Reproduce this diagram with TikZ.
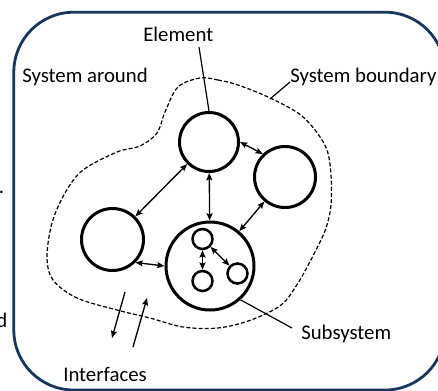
\documentclass[tikz,border=0pt]{standalone}
\usepackage{fontspec}
\setmainfont{Carlito}
\usetikzlibrary{arrows.meta,calc}
\definecolor{navy}{HTML}{17375E}
\begin{document}
\begin{tikzpicture}[x=0.75pt,y=-0.75pt,
  ring/.style={circle,draw,line width=2.25pt,inner sep=0pt},
  smallring/.style={circle,draw,line width=1.9pt,inner sep=0pt,minimum size=15pt},
  tip/.tip={Stealth[length=5.5pt,width=4.5pt,inset=1pt]},
  link/.style={line width=1pt,tip-tip},
  oneway/.style={line width=1pt,-tip},
  lbl/.style={inner sep=0pt,anchor=base west,font=\fontsize{15.6}{18}\selectfont},
  leader/.style={line width=0.9pt},
  bound/.style={line width=0.9pt,dash pattern=on 3pt off 1.6pt}]
\useasboundingbox (0,0) rectangle (438,390);
% outer frame
\draw[navy,line width=2.1pt,rounded corners=45pt] (13.8,12.2) rectangle (445,390);
% system boundary
\draw[bound] plot[smooth cycle,tension=0.55] coordinates {
 (200,78) (218,80) (238,85) (268,97) (298,113) (315,130) (327,150) (331,175)
 (331,205) (326,228) (315,252) (298,283) (281,305) (251,320) (218,328) (183,327)
 (150,318) (117,310) (77,298) (53,280) (47,257) (52,223) (65,193) (83,170)
 (117,152) (140,146) (157,133) (165,112) (178,87)};
% elements
\node[ring,minimum size=44.25pt] (E) at (209,142) {};
\node[ring,minimum size=45.75pt] (R) at (285,177) {};
\node[ring,minimum size=46.5pt] (L) at (112.5,239.5) {};
\node[ring,minimum size=66pt] (S) at (210,266) {};
\node[smallring] (T) at (202.5,239) {};
\node[smallring] (B) at (202.5,281) {};
\node[smallring] (Q) at (237.5,273.5) {};
% relations
\draw[link] (L) -- (E);
\draw[link] (E) -- (S);
\draw[link] (E.east) -- (R.134);
\draw[link] (R) -- (S);
\draw[link] (L.-45) -- (S.west);
\draw[link] (T) -- (B);
\draw[link] (T) -- (Q);
% interfaces
\coordinate (ia) at (125,292);
\coordinate (ib) at (112,338);
\coordinate (ic) at (133,347);
\coordinate (id) at (147,298);
\draw[oneway] (ia) -- (ib);
\draw[oneway] (ic) -- (id);
% labels
\node[lbl] (el) at (143,41.5) {Element};
\node[lbl] (sa) at (22,82) {System around};
\node[lbl] (sb) at (290,82) {System boundary};
\node[lbl] (ss) at (301,339) {Subsystem};
\node[lbl] (ifc) at (63,381) {Interfaces};
\node[lbl,anchor=base east] (dfrag) at (7.5,327) {d};
\node[lbl] (dotfrag) at (-1.5,193) {.};
% leaders
\coordinate (ep) at (199,47);
\draw[leader] (ep) -- (E.north);
\coordinate (bp) at (270,99);
\draw[leader] (sb.base west) -- (bp);
\coordinate (sp) at (292,328);
\draw[leader] (S.-48) -- (sp);
\end{tikzpicture}
\end{document}
